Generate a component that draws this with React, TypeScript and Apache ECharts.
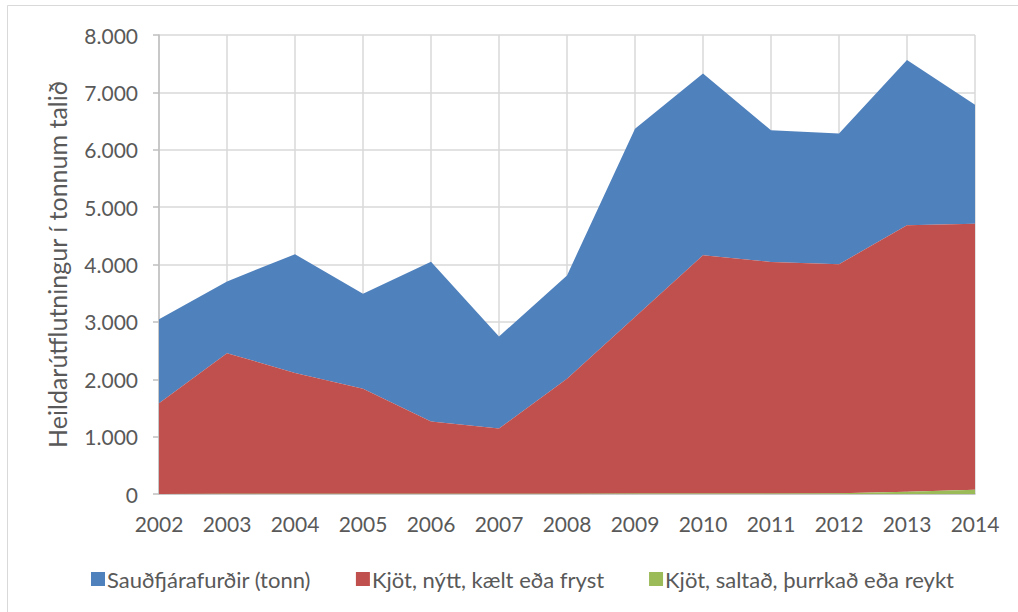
import React, { useEffect, useRef } from "react";
import * as echarts from "echarts";

const years = ["2002","2003","2004","2005","2006","2007","2008","2009","2010","2011","2012","2013","2014"];
// cumulative tops
const totalTop = [3045, 3705, 4180, 3490, 4050, 2745, 3810, 6365, 7330, 6340, 6285, 7565, 6785];
const redTop = [1580, 2455, 2110, 1835, 1265, 1140, 2010, 3085, 4160, 4045, 4005, 4685, 4712];
const saltad = [2, 3, 3, 3, 4, 4, 6, 8, 10, 10, 15, 40, 75];
const nytt = redTop.map((v, i) => v - saltad[i]);
const saudfjar = totalTop.map((v, i) => v - redTop[i]);

const FONT = "Lato";
const TXT = "#595959";

export default function App() {
  const ref = useRef<HTMLDivElement>(null);
  useEffect(() => {
    const chart = echarts.init(ref.current!, null, { renderer: "svg" });
    chart.setOption({
      animation: false,
      backgroundColor: "#ffffff",
      textStyle: { fontFamily: FONT },
      graphic: [
        { type: "rect", shape: { x: 7.5, y: 5.5, width: 1030, height: 630 }, style: { fill: "none", stroke: "#d9d9d9", lineWidth: 1 } },
      ],
      grid: { left: 159, right: 43, top: 35, bottom: 118, containLabel: false },
      legend: {
        bottom: 17,
        left: 86,
        itemWidth: 14,
        itemHeight: 14,
        itemGap: 45,
        icon: "rect",
        textStyle: { fontFamily: FONT, fontSize: 22, color: TXT, padding: [0, 0, 0, -3] },
        data: ["Sauðfjárafurðir (tonn)", "Kjöt, nýtt, kælt eða fryst", "Kjöt, saltað, þurrkað eða reykt"],
      },
      xAxis: {
        type: "category",
        data: years,
        boundaryGap: false,
        axisLine: { lineStyle: { color: "#bfbfbf", width: 1.5 } },
        axisTick: { show: false },
        axisLabel: { fontFamily: FONT, fontSize: 21, color: TXT, margin: 19 },
        splitLine: { show: true, lineStyle: { color: "#d9d9d9", width: 1.5 } },
      },
      yAxis: {
        type: "value",
        min: 0,
        max: 8000,
        interval: 1000,
        name: "Heildarútflutningur í tonnum talið",
        nameLocation: "middle",
        nameGap: 90,
        nameTextStyle: { fontFamily: FONT, fontSize: 25, color: TXT },
        axisLine: { show: true, lineStyle: { color: "#bfbfbf", width: 1.5 } },
        axisTick: { show: true, length: 6, lineStyle: { color: "#bfbfbf", width: 1.5 } },
        axisLabel: {
          fontFamily: FONT,
          fontSize: 21,
          color: TXT,
          margin: 21,
          formatter: (v: number) => (v === 0 ? "0" : (v / 1000).toFixed(3)),
        },
        splitLine: { lineStyle: { color: "#d9d9d9", width: 1.5 } },
      },
      series: [
        {
          name: "Kjöt, saltað, þurrkað eða reykt",
          type: "line",
          stack: "t",
          data: saltad,
          symbol: "none",
          lineStyle: { width: 0 },
          itemStyle: { color: "#9bbb59" },
          areaStyle: { color: "#9bbb59", opacity: 1 },
          z: 3,
        },
        {
          name: "Kjöt, nýtt, kælt eða fryst",
          type: "line",
          stack: "t",
          data: nytt,
          symbol: "none",
          lineStyle: { width: 0 },
          itemStyle: { color: "#c0504d" },
          areaStyle: { color: "#c0504d", opacity: 1 },
          z: 2,
        },
        {
          name: "Sauðfjárafurðir (tonn)",
          type: "line",
          stack: "t",
          data: saudfjar,
          symbol: "none",
          lineStyle: { width: 0 },
          itemStyle: { color: "#4f81bd" },
          areaStyle: { color: "#4f81bd", opacity: 1 },
          z: 1,
        },
      ],
    });
    return () => chart.dispose();
  }, []);
  return <div ref={ref} style={{ position: "fixed", left: 0, top: 0, width: 1018, height: 612 }} />;
}
